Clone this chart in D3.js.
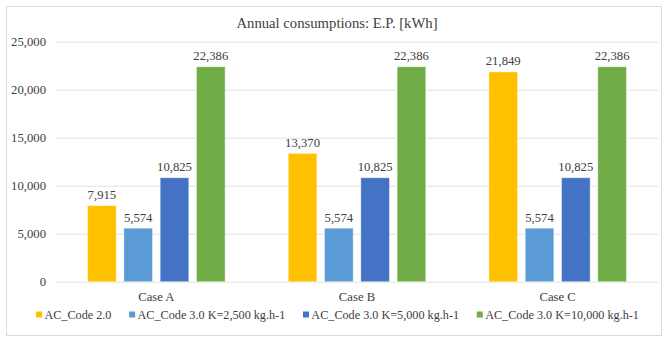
<!DOCTYPE html>
<html>
<head>
<meta charset="utf-8">
<script src="https://cdn.jsdelivr.net/npm/d3@7"></script>
<style>
    body { margin: 0; background: #fff; }
</style>
</head>
<body>
<div id="chart"></div>
<script>
const categories = ['Case A', 'Case B', 'Case C'];
const seriesNames = [
    'AC_Code 2.0',
    'AC_Code 3.0 K=2,500 kg.h-1',
    'AC_Code 3.0 K=5,000 kg.h-1',
    'AC_Code 3.0 K=10,000 kg.h-1'
];
const seriesColors = ['#FFC000', '#5B9BD5', '#4472C4', '#70AD47'];
const code20 = [7915, 13370, 21849];
const k2500 = [5574, 5574, 5574];
const k5000 = [10825, 10825, 10825];
const k10000 = [22386, 22386, 22386];
const yTicks = [0, 5000, 10000, 15000, 20000, 25000];

const seriesValues = [code20, k2500, k5000, k10000];

const FONT = '"Liberation Serif", "Times New Roman", Times, serif';
const TEXT_COLOR = '#404040';

const width = 666;
const height = 337;
const margin = { top: 41.7, right: 8, bottom: 55.3, left: 56 };

const svg = d3.select('#chart').append('svg')
    .attr('width', width)
    .attr('height', height)
    .style('font-family', FONT);

// chart frame
svg.append('rect')
    .attr('x', 6.5).attr('y', 6.5)
    .attr('width', 655).attr('height', 329)
    .attr('fill', '#fff')
    .attr('stroke', '#d9d9d9');

svg.append('text')
    .attr('x', 337)
    .attr('y', 28)
    .attr('text-anchor', 'middle')
    .attr('font-size', 14.7)
    .style('font-family', FONT)
    .attr('fill', TEXT_COLOR)
    .text('Annual consumptions: E.P. [kWh]');

const x0 = d3.scaleBand()
    .domain(categories)
    .range([margin.left, width - margin.right]);

const x1 = d3.scaleBand()
    .domain(seriesNames)
    .range([0, x0.bandwidth()])
    .paddingInner(0.212)
    .paddingOuter(0.87);

const y = d3.scaleLinear()
    .domain([0, 25000])
    .range([height - margin.bottom, margin.top]);

const fmt = d3.format(',');

// gridlines + y labels
svg.append('g')
    .attr('transform', `translate(${margin.left},0)`)
    .call(d3.axisLeft(y).tickValues(yTicks).tickFormat(fmt)
        .tickSize(-(width - margin.left - margin.right)).tickPadding(10))
    .call((g) => g.attr('font-family', null).attr('font-size', null))
    .call((g) => g.select('.domain').remove())
    .call((g) => g.selectAll('line').attr('stroke', '#e3e3e3'))
    .call((g) => g.selectAll('text')
        .attr('font-size', 12.7)
        .attr('fill', TEXT_COLOR)
        .style('font-family', FONT));

const rows = categories.map((category, i) => ({
    category,
    values: seriesNames.map((name, s) => ({ name, value: seriesValues[s][i], color: seriesColors[s] }))
}));

const groups = svg.selectAll('.group')
    .data(rows)
    .enter()
    .append('g')
    .attr('transform', (d) => `translate(${x0(d.category)},0)`);

groups.selectAll('rect')
    .data((d) => d.values)
    .enter()
    .append('rect')
    .attr('x', (d) => x1(d.name))
    .attr('y', (d) => y(d.value))
    .attr('width', x1.bandwidth())
    .attr('height', (d) => y(0) - y(d.value))
    .attr('fill', (d) => d.color)
    .attr('stroke', '#ffffff')
    .attr('stroke-opacity', 0.5)
    .attr('stroke-width', 0.75);

groups.selectAll('.value')
    .data((d) => d.values)
    .enter()
    .append('text')
    .attr('class', 'value')
    .attr('x', (d) => x1(d.name) + x1.bandwidth() / 2)
    .attr('y', (d) => y(d.value) - 6.5)
    .attr('text-anchor', 'middle')
    .attr('font-size', 12.7)
    .attr('fill', TEXT_COLOR)
    .style('font-family', FONT)
    .text((d) => fmt(d.value));

// category labels
svg.append('g')
    .selectAll('text')
    .data(categories)
    .enter()
    .append('text')
    .attr('x', (d) => x0(d) + x0.bandwidth() / 2)
    .attr('y', 301)
    .attr('text-anchor', 'middle')
    .attr('font-size', 12.7)
    .attr('fill', TEXT_COLOR)
    .style('font-family', FONT)
    .text((d) => d);

// legend
const legend = svg.append('g');
const items = legend.selectAll('g')
    .data(seriesNames)
    .enter()
    .append('g');

items.append('rect')
    .attr('width', 6)
    .attr('height', 6)
    .attr('y', -7)
    .attr('fill', (d, i) => seriesColors[i]);

items.append('text')
    .attr('x', 8.4)
    .attr('font-size', 12.2)
    .attr('fill', TEXT_COLOR)
    .style('font-family', FONT)
    .text((d) => d);

let cursor = 0;
items.each(function place() {
    const item = d3.select(this);
    item.attr('transform', `translate(${cursor},0)`);
    cursor += 8.4 + item.select('text').node().getComputedTextLength() + 17.7;
});
const legendWidth = cursor - 17.7;
legend.attr('transform', `translate(${337.5 - legendWidth / 2},318.5)`);
</script>
</body>
</html>
